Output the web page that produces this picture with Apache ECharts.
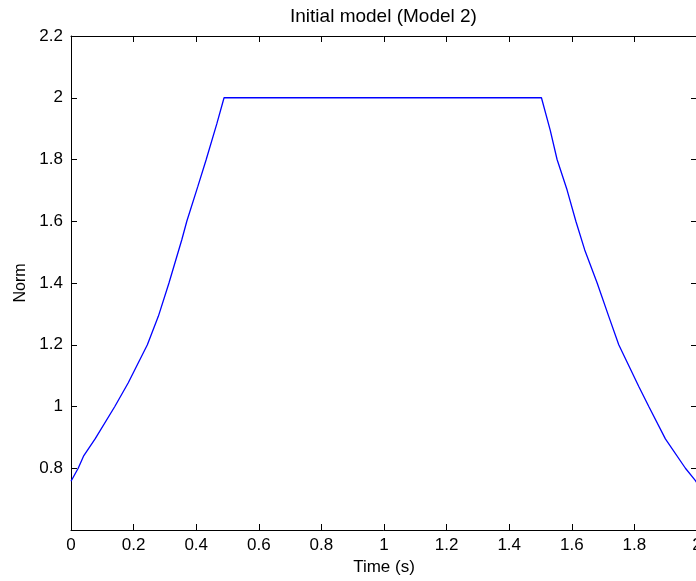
<!DOCTYPE html>
<html>
<head>
<meta charset="utf-8">
<script src="https://cdn.jsdelivr.net/npm/echarts@6/dist/echarts.min.js"></script>
<style>
    html, body { margin: 0; padding: 0; background: #fff; }
    #main { width: 696px; height: 581px; }
</style>
</head>
<body>
<div id="main"></div>
<script>
// values
var timeS = [0.00, 0.023, 0.041, 0.077, 0.14, 0.183, 0.244, 0.279, 0.313, 0.354, 0.370, 0.405, 0.432, 0.466, 0.489,
             1.503, 1.531, 1.553, 1.585, 1.613, 1.641, 1.681, 1.718, 1.750, 1.814, 1.846, 1.899, 1.963, 1.995, 2.00];
var normValues = [0.758, 0.80, 0.841, 0.895, 1.00, 1.077, 1.20, 1.292, 1.40, 1.54, 1.60, 1.712, 1.80, 1.916, 2.00,
                  2.00, 1.895, 1.80, 1.701, 1.60, 1.508, 1.40, 1.292, 1.20, 1.065, 1.00, 0.895, 0.80, 0.76, 0.752];
var xTicks = [0, 0.2, 0.4, 0.6, 0.8, 1, 1.2, 1.4, 1.6, 1.8, 2];
var yTicks = [0.6, 0.8, 1, 1.2, 1.4, 1.6, 1.8, 2, 2.2];

$ = window.$ || function (f) { f(); };

$(function () {
    var dom = document.getElementById("main");
    var myChart = echarts.init(dom);
    var option = null;

    var font = 'Liberation Sans, Arial, sans-serif';
    var pts = [];
    for (var i = 0; i < timeS.length; i++) {
        pts.push([timeS[i], normValues[i]]);
    }

    var lineStyle = { color: '#000', width: 1 };

    option = {
        animation: false,
        backgroundColor: '#fff',
        title: {
            text: 'Initial model (Model 2)',
            left: 290,
            top: 7,
            padding: 0,
            textStyle: { fontFamily: font, fontSize: 19, fontWeight: 'normal', color: '#000' }
        },
        // box runs a pixel past the right edge of the window, like the original
        grid: { left: 71, top: 36, width: 626, height: 494, outerBoundsMode: 'none', containLabel: false },
        xAxis: [{
            type: 'value',
            min: xTicks[0],
            max: xTicks[xTicks.length - 1],
            interval: 0.2,
            name: 'Time (s)',
            nameLocation: 'middle',
            nameGap: 28,
            nameTextStyle: { fontFamily: font, fontSize: 17, color: '#000' },
            axisLine: { onZero: false, lineStyle: lineStyle },
            axisTick: { inside: true, length: 6, lineStyle: lineStyle },
            axisLabel: { fontFamily: font, fontSize: 17, color: '#000', margin: 7 },
            splitLine: { show: false }
        }, {
            type: 'value',
            position: 'top',
            min: xTicks[0],
            max: xTicks[xTicks.length - 1],
            interval: 0.2,
            axisLine: { onZero: false, lineStyle: lineStyle },
            axisTick: { inside: true, length: 6, lineStyle: lineStyle },
            axisLabel: { show: false },
            splitLine: { show: false }
        }],
        yAxis: [{
            type: 'value',
            min: yTicks[0],
            max: yTicks[yTicks.length - 1],
            interval: 0.2,
            name: 'Norm',
            nameLocation: 'middle',
            nameGap: 41,
            nameTextStyle: { fontFamily: font, fontSize: 16, color: '#000' },
            axisLine: { onZero: false, lineStyle: lineStyle },
            axisTick: { inside: true, length: 6, lineStyle: lineStyle },
            axisLabel: {
                fontFamily: font, fontSize: 17, color: '#000', margin: 8,
                formatter: function (v) { return v === yTicks[0] ? '' : String(+v.toFixed(1)); }
            },
            splitLine: { show: false }
        }, {
            type: 'value',
            position: 'right',
            min: yTicks[0],
            max: yTicks[yTicks.length - 1],
            interval: 0.2,
            axisLine: { onZero: false, lineStyle: lineStyle },
            axisTick: { inside: true, length: 6, lineStyle: lineStyle },
            axisLabel: { show: false },
            splitLine: { show: false }
        }],
        series: [{
            type: 'line',
            data: pts,
            showSymbol: false,
            clip: false,
            lineStyle: { color: '#0000ff', width: 1.3 }
        }]
    };
    if (option && typeof option === "object") {
        myChart.setOption(option, true);
    }
});
</script>
</body>
</html>
